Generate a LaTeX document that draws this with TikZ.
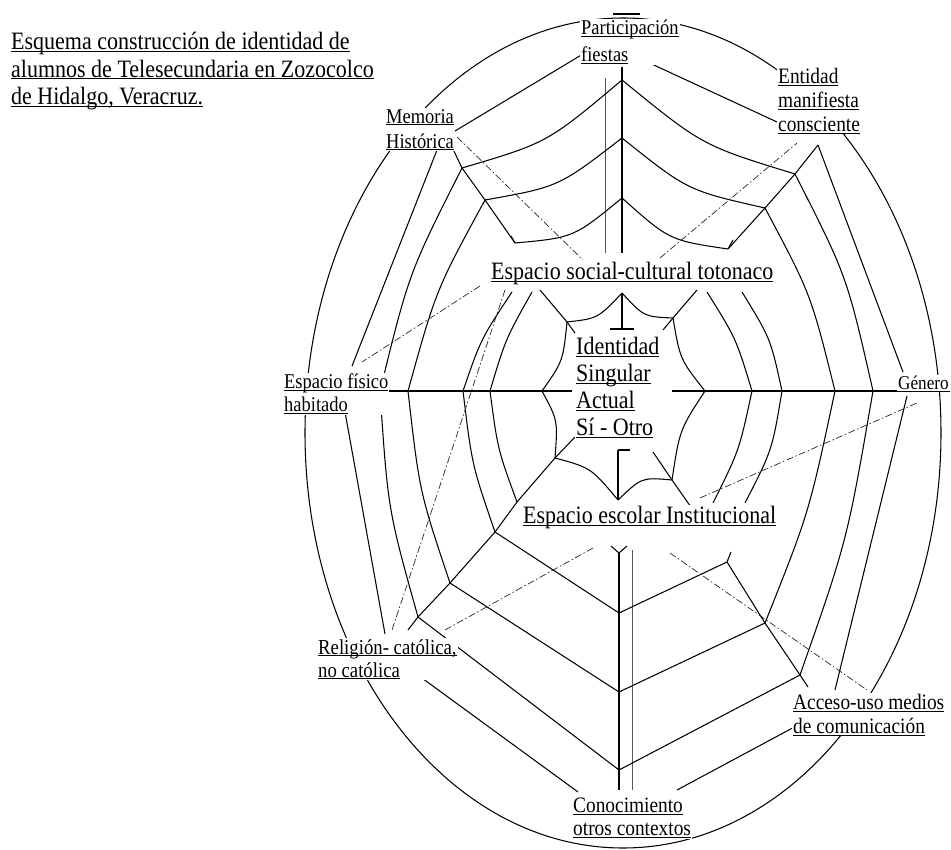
\documentclass[tikz,border=0pt]{standalone}
\usepackage{fontspec}
\setmainfont{Liberation Serif}[FakeStretch=0.88]
\usetikzlibrary{calc}
\newcommand{\ul}[1]{\underline{\raisebox{0pt}[\height][0pt]{#1}}}
\newcommand{\wseg}[3]{\draw[web] (#1) .. controls ($(#1)!.5!(#2)!#3!(C)$) .. (#2);}
\tikzset{
  web/.style={line width=1.05pt, black},
  thinline/.style={line width=0.5pt, black!65},
  dd/.style={line width=0.7pt, black!85, dash pattern=on 7pt off 2.5pt on 1.5pt off 2.5pt},
  lab/.style={anchor=north west, inner sep=1pt, fill=white, align=left},
  mid/.style={font=\fontsize{22}{24}\selectfont},
  big/.style={font=\fontsize{25}{27}\selectfont},
}
\begin{document}
\begin{tikzpicture}[x=1pt,y=-1pt]
\useasboundingbox (0,0) rectangle (951,850);
% ---------- coordinates ----------
\coordinate (C) at (620,392);
\coordinate (r0t) at (622,293);  \coordinate (r0ur) at (673,318);
\coordinate (r0r) at (705,391);  \coordinate (r0lr) at (672,480);
\coordinate (r0b) at (618,500);  \coordinate (r0ll) at (555,458);
\coordinate (r0l) at (542,391);  \coordinate (r0ul) at (567,322);
\coordinate (r1t) at (622,80);   \coordinate (r2t) at (622,138);  \coordinate (r3t) at (622,198);
\coordinate (r1ul) at (462,168); \coordinate (r2ul) at (485,200); \coordinate (r3ul) at (515,243);
\coordinate (r1ur) at (795,174); \coordinate (r2ur) at (765,208); \coordinate (r3ur) at (728,249);
\coordinate (r1l) at (380,391);  \coordinate (r2l) at (408,391);  \coordinate (r3l) at (463,391); \coordinate (rml) at (490,391);
\coordinate (r1r) at (873,391);  \coordinate (r2r) at (835,391);  \coordinate (r3r) at (782,391); \coordinate (rmr) at (752,391);
\coordinate (r1ll) at (418,617); \coordinate (r2ll) at (450,583); \coordinate (r3ll) at (495,532);
\coordinate (r1b) at (619,770);  \coordinate (r2b) at (619,692);  \coordinate (r3b) at (619,613);
\coordinate (r1lr) at (800,675); \coordinate (r2lr) at (765,623); \coordinate (r3lr) at (727,562);
% free ends
\coordinate (topA) at (622,67);  \coordinate (topB) at (622,253);
\coordinate (topC) at (605,78);  \coordinate (topD) at (605,253);
\coordinate (botA) at (619,553); \coordinate (botB) at (619,790);
\coordinate (botC) at (632,550); \coordinate (botD) at (632,790);
\coordinate (ulA) at (452,147);  \coordinate (urA) at (818,145);
\coordinate (ul0a) at (540,290); \coordinate (ul0b) at (575,333);
\coordinate (ur0a) at (697,290); \coordinate (ur0b) at (663,330);
\coordinate (llA) at (575,437);  \coordinate (llB) at (517,502); \coordinate (llC) at (408,630);
\coordinate (lrA) at (653,452);  \coordinate (lrB) at (693,510); \coordinate (lrC) at (808,687);
\coordinate (hL1) at (350,391);  \coordinate (hL2) at (572,391);
\coordinate (hR1) at (672,391);  \coordinate (hR2) at (950,391);
\coordinate (l3a) at (512,292);  \coordinate (lma) at (532,292);
\coordinate (r3a) at (742,292);  \coordinate (r3z) at (745,503);
\coordinate (rma) at (707,292);  \coordinate (rmz) at (713,503);
% polygon ends
\coordinate (pF1) at (583,54);   \coordinate (pM1) at (450,134);
\coordinate (pF2) at (630,54);   \coordinate (pE1) at (777,122);
\coordinate (pM2) at (437,150);  \coordinate (pEf1) at (352,366);
\coordinate (pEf2) at (345,412); \coordinate (pR1) at (385,634);
\coordinate (pR2) at (400,662);  \coordinate (pC1) at (578,792);
\coordinate (pC2) at (677,790);  \coordinate (pA1) at (800,724);
\coordinate (pG1) at (903,372);  \coordinate (pG2) at (907,396);
\coordinate (pA2) at (835,690);
% dash-dot ends
\coordinate (d1a) at (457,137); \coordinate (d1b) at (583,260);
\coordinate (d2a) at (660,258); \coordinate (d2b) at (797,143);
\coordinate (d3a) at (480,286); \coordinate (d3b) at (362,362);
\coordinate (d4a) at (700,498); \coordinate (d4b) at (917,403);
\coordinate (d5a) at (593,548); \coordinate (d5b) at (445,630);
\coordinate (d6a) at (670,553); \coordinate (d6b) at (867,690);
\coordinate (d7a) at (505,290); \coordinate (d7b) at (392,630);

% ---------- outer ellipse ----------
\draw[web] (623,433) ellipse [x radius=318pt, y radius=415pt];

% ---------- spokes ----------
\draw[web] (topA) -- (topB);
\draw[thinline] (topC) -- (topD);
\draw[web] (botA) -- (botB);
\draw[thinline] (botC) -- (botD);
\draw[web] (ulA) -- (r1ul) -- (r2ul) -- (r3ul);
\draw[web] (urA) -- (r1ur) -- (r2ur) -- (r3ur);
\draw[web] (ul0a) -- (r0ul) -- (ul0b);
\draw[web] (ur0a) -- (r0ur) -- (ur0b);
\draw[web] (llA) -- (r0ll) -- (llB) -- (r3ll) -- (r2ll) -- (r1ll) -- (llC);
\draw[web] (lrA) -- (r0lr) -- (lrB);
\draw[web] (r3lr) -- (r2lr) -- (r1lr) -- (lrC);
\draw[web] (hL1) -- (hL2);
\draw[web] (hR1) -- (hR2);
\draw[web] (r0t) -- (622,329);
\draw[web] (610,329) -- (634,329);
\draw[web] (618,450) -- (r0b);
\draw[web] (618,450) -- (630,450);
\draw[web] (613,14) -- (640,14);
% small marks at ring vertices
\draw[web] (r3ul) -- (511,236);
\draw[web] (r3ur) -- (733,240);
\draw[web] (611,546) -- (botA) -- (627,546);
\draw[web] (r3lr) -- (731,552);

% ---------- inner ring ----------
\wseg{r0t}{r0ur}{0.13}
\wseg{r0ur}{r0r}{0.13}
\wseg{r0r}{r0lr}{0.13}
\wseg{r0lr}{r0b}{0.13}
\wseg{r0b}{r0ll}{0.13}
\wseg{r0ll}{r0l}{0.13}
\wseg{r0l}{r0ul}{0.13}
\wseg{r0ul}{r0t}{0.13}

% ---------- upper rings ----------
\wseg{r1t}{r1ul}{0.07}
\wseg{r1t}{r1ur}{0.07}
\wseg{r2t}{r2ul}{0.08}
\wseg{r2t}{r2ur}{0.08}
\wseg{r3t}{r3ul}{0.1}
\wseg{r3t}{r3ur}{0.1}

% ---------- side rings ----------
\wseg{r1ul}{r1l}{-0.06}
\wseg{r1l}{r1ll}{-0.05}
\wseg{r2ul}{r2l}{-0.06}
\wseg{r2l}{r2ll}{-0.05}
\wseg{l3a}{r3l}{-0.05}
\wseg{r3l}{r3ll}{-0.05}
\wseg{lma}{rml}{-0.05}
\wseg{rml}{llB}{-0.05}
\wseg{r1ur}{r1r}{-0.06}
\wseg{r1r}{r1lr}{-0.05}
\wseg{r2ur}{r2r}{-0.06}
\wseg{r2r}{r2lr}{-0.05}
\wseg{r3a}{r3r}{-0.06}
\wseg{r3r}{r3z}{-0.06}
\wseg{rma}{rmr}{-0.06}
\wseg{rmr}{rmz}{-0.06}

% ---------- lower rings ----------
\draw[web] (r1ll) -- (r1b) -- (r1lr);
\draw[web] (r2ll) -- (r2b) -- (r2lr);
\draw[web] (r3ll) -- (r3b) -- (r3lr);

% ---------- label polygon ----------
\draw[web] (pF1) -- (pM1);
\draw[web] (pF2) -- (pE1);
\draw[web] (pM2) -- (pEf1);
\draw[web] (pEf2) -- (pR1);
\draw[web] (pR2) -- (pC1);
\draw[web] (pC2) -- (pA1);
\draw[web] (urA) -- (pG1);
\draw[web] (pG2) -- (pA2);

% ---------- dash-dot links ----------
\draw[dd] (d1a) -- (d1b);
\draw[dd] (d2a) -- (d2b);
\draw[dd] (d3a) -- (d3b);
\draw[dd] (d4a) -- (d4b);
\draw[dd] (d5a) -- (d5b);
\draw[dd] (d6a) -- (d6b);
\draw[dd] (d7a) -- (d7b);

% ---------- labels ----------
\node[lab, fill=none, font=\fontsize{25}{27.5}\selectfont] (title) at (10,31)
  {\ul{Esquema construcción de identidad de}\\\ul{alumnos de Telesecundaria en Zozocolco}\\\ul{de Hidalgo, Veracruz.}};
\node[lab, font=\fontsize{21}{27}\selectfont] (lPart) at (580,19) {\ul{Participación}\\\ul{fiestas}};
\node[lab, font=\fontsize{21}{25}\selectfont] (lMem) at (385,108) {\ul{Memoria}\\\ul{Histórica}};
\node[lab, mid] (lEnt) at (777,67) {\ul{Entidad}\\\ul{manifiesta}\\\ul{consciente}};
\node[lab, font=\fontsize{19.5}{22}\selectfont] (lGen) at (897,375) {Género};
\node[lab, mid] (lAcc) at (792,693) {\ul{Acceso-uso medios}\\\ul{de comunicación}};
\node[lab, font=\fontsize{22}{23}\selectfont] (lCon) at (572,797) {\ul{Conocimiento}\\\ul{otros contextos}};
\node[lab, font=\fontsize{21.3}{23}\selectfont] (lRel) at (317,638) {\ul{Religión- católica,}\\\ul{no católica}};
\node[lab, font=\fontsize{21}{23}\selectfont] (lEsp) at (283,373) {\ul{Espacio físico}\\\ul{habitado}};
\node[lab, big] (lSoc) at (490,261) {\ul{Espacio social-cultural totonaco}};
\node[lab, big] (lId) at (575,336) {\ul{Identidad}\\\ul{Singular}\\\ul{Actual}\\\ul{Sí - Otro}};
\node[lab, big] (lEsc) at (522,505) {\ul{Espacio escolar Institucional}};
\end{tikzpicture}
\end{document}
